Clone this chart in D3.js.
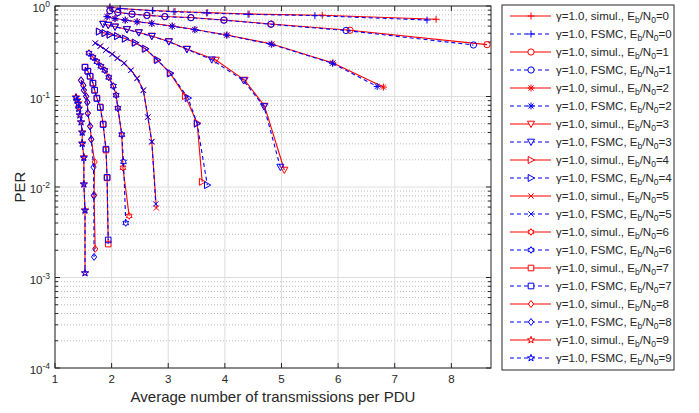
<!DOCTYPE html>
<html><head><meta charset="utf-8">
<script src="https://cdn.jsdelivr.net/npm/d3@7"></script>
<style>
body{margin:0;background:#fff;}
svg{display:block;font-family:"Liberation Sans",Arial,Helvetica,sans-serif;}
</style></head>
<body><svg id="c" width="699" height="413"></svg>
<script>
// ---- data: [average transmissions per PDU, PER] ----
const ebn0 = [0,1,2,3,4,5,6,7,8,9];
const sim0 = [[1.97,0.975],[2.15,0.94],[2.73,0.892],[3.12,0.869],[3.69,0.845],[4.43,0.816],[5.72,0.79],[7.73,0.713]];
const fsm0 = [[1.97,0.972],[2.15,0.937],[2.72,0.888],[3.10,0.863],[3.68,0.838],[4.41,0.809],[5.59,0.783],[7.57,0.70]];
const sim1 = [[1.97,0.89],[2.11,0.85],[2.36,0.816],[2.63,0.789],[2.94,0.766],[3.40,0.746],[3.99,0.70],[4.82,0.633],[6.21,0.54],[8.63,0.374]];
const fsm1 = [[1.97,0.885],[2.11,0.848],[2.36,0.812],[2.62,0.786],[2.94,0.762],[3.40,0.742],[3.98,0.697],[4.81,0.628],[6.14,0.536],[8.39,0.371]];
const sim2 = [[1.92,0.766],[2.06,0.728],[2.24,0.70],[2.45,0.671],[2.71,0.644],[3.07,0.601],[3.47,0.55],[4.04,0.478],[4.83,0.38],[5.91,0.235],[6.80,0.127]];
const fsm2 = [[1.92,0.762],[2.06,0.725],[2.24,0.697],[2.45,0.668],[2.71,0.64],[3.07,0.598],[3.47,0.547],[4.03,0.476],[4.82,0.378],[5.90,0.233],[6.69,0.129]];
const sim3 = [[1.85,0.633],[1.94,0.617],[2.06,0.59],[2.27,0.553],[2.48,0.51],[2.71,0.466],[3.01,0.406],[3.33,0.335],[3.84,0.253],[4.35,0.152],[4.70,0.0785],[5.05,0.0154]];
const fsm3 = [[1.85,0.63],[1.94,0.613],[2.06,0.587],[2.27,0.55],[2.48,0.507],[2.71,0.463],[3.01,0.403],[3.33,0.332],[3.77,0.255],[4.33,0.150],[4.69,0.0775],[4.98,0.0166]];
const sim4 = [[1.78,0.523],[1.88,0.503],[1.97,0.484],[2.10,0.466],[2.24,0.438],[2.41,0.395],[2.59,0.339],[2.80,0.256],[3.03,0.182],[3.30,0.101],[3.51,0.051],[3.60,0.0114]];
const fsm4 = [[1.78,0.52],[1.88,0.50],[1.97,0.481],[2.10,0.463],[2.24,0.435],[2.42,0.392],[2.60,0.336],[2.81,0.252],[3.04,0.180],[3.35,0.0962],[3.51,0.050],[3.69,0.0105]];
const sim5 = [[1.71,0.39],[1.80,0.361],[1.90,0.327],[2.01,0.295],[2.10,0.266],[2.22,0.235],[2.34,0.196],[2.45,0.16],[2.56,0.118],[2.64,0.0594],[2.71,0.0314],[2.79,0.00586]];
const fsm5 = [[1.71,0.388],[1.80,0.359],[1.90,0.325],[2.01,0.293],[2.10,0.264],[2.22,0.233],[2.34,0.194],[2.45,0.158],[2.56,0.117],[2.64,0.059],[2.71,0.0318],[2.78,0.00649]];
const sim6 = [[1.60,0.303],[1.67,0.273],[1.74,0.244],[1.81,0.217],[1.88,0.196],[1.95,0.164],[2.03,0.131],[2.08,0.104],[2.11,0.0746],[2.18,0.0376],[2.20,0.0163],[2.31,0.00479]];
const fsm6 = [[1.60,0.30],[1.67,0.27],[1.74,0.242],[1.81,0.215],[1.88,0.194],[1.95,0.162],[2.03,0.130],[2.08,0.103],[2.11,0.074],[2.18,0.038],[2.21,0.0190],[2.25,0.0040]];
const sim7 = [[1.53,0.212],[1.58,0.191],[1.62,0.168],[1.67,0.141],[1.70,0.118],[1.74,0.0962],[1.80,0.0766],[1.85,0.0497],[1.90,0.0256],[1.92,0.0126],[1.94,0.00234]];
const fsm7 = [[1.53,0.21],[1.58,0.19],[1.62,0.167],[1.67,0.14],[1.70,0.117],[1.74,0.095],[1.80,0.0755],[1.85,0.049],[1.90,0.0262],[1.92,0.0128],[1.94,0.0026]];
const sim8 = [[1.46,0.152],[1.50,0.134],[1.51,0.118],[1.55,0.101],[1.57,0.087],[1.58,0.0657],[1.62,0.0472],[1.64,0.0339],[1.70,0.0189],[1.69,0.0082],[1.71,0.00207]];
const fsm8 = [[1.46,0.15],[1.50,0.132],[1.51,0.117],[1.55,0.10],[1.57,0.086],[1.58,0.065],[1.62,0.0467],[1.64,0.0335],[1.68,0.0166],[1.685,0.0080],[1.69,0.00169]];
const sim9 = [[1.37,0.0987],[1.39,0.0915],[1.41,0.0848],[1.42,0.0746],[1.44,0.0625],[1.46,0.0523],[1.48,0.0405],[1.48,0.0306],[1.51,0.0215],[1.51,0.0108],[1.53,0.00557],[1.53,0.00112]];
const fsm9 = [[1.37,0.097],[1.39,0.09],[1.41,0.083],[1.42,0.073],[1.44,0.062],[1.46,0.052],[1.48,0.040],[1.48,0.030],[1.51,0.021],[1.51,0.0107],[1.53,0.0055],[1.53,0.00112]];
const simSeries = [sim0,sim1,sim2,sim3,sim4,sim5,sim6,sim7,sim8,sim9];
const fsmSeries = [fsm0,fsm1,fsm2,fsm3,fsm4,fsm5,fsm6,fsm7,fsm8,fsm9];
const markerNames = ["plus","circle","asterisk","triDown","triRight","cross","hexagram","square","diamond","pentagram"];
const xTicks = [1,2,3,4,5,6,7,8];
const yTickExps = [0,-1,-2,-3,-4];
const xLabel = "Average number of transmissions per PDU";
const yLabel = "PER";

// ---- layout ----
const L = 55, R = 491, T = 6, B = 368;
const svg = d3.select("#c");
const x = d3.scaleLinear().domain([1, 8.7]).range([L, R]);
const y = d3.scaleLog().domain([1e-4, 1]).range([B, T]);

function markerPath(name, s) {
  const h = s / 2;
  switch (name) {
    case "plus": return `M${-h},0H${h}M0,${-h}V${h}`;
    case "cross": { const k = h * 0.75; return `M${-k},${-k}L${k},${k}M${-k},${k}L${k},${-k}`; }
    case "asterisk": { const k = h * 0.72; return `M${-h},0H${h}M0,${-h}V${h}M${-k},${-k}L${k},${k}M${-k},${k}L${k},${-k}`; }
    case "circle": { const r = h * 0.9; return `M${r},0A${r},${r} 0 1,1 ${-r},0A${r},${r} 0 1,1 ${r},0Z`; }
    case "square": { const k = h * 0.8; return `M${-k},${-k}H${k}V${k}H${-k}Z`; }
    case "diamond": { return `M0,${-h}L${h*0.75},0L0,${h}L${-h*0.75},0Z`; }
    case "triDown": return `M${-h},${-h*0.8}L${h},${-h*0.8}L0,${h}Z`;
    case "triRight": return `M${-h*0.8},${-h}L${h},0L${-h*0.8},${h}Z`;
    case "pentagram": {
      const ro = h * 1.05, ri = ro * 0.382; let p = "";
      for (let i = 0; i < 10; i++) { const r = i % 2 ? ri : ro; const a = -Math.PI / 2 + i * Math.PI / 5;
        p += (i ? "L" : "M") + (r * Math.cos(a)).toFixed(2) + "," + (r * Math.sin(a)).toFixed(2); }
      return p + "Z";
    }
    case "hexagram": {
      const ro = h * 0.95, ri = ro * 0.577; let p = "";
      for (let i = 0; i < 12; i++) { const r = i % 2 ? ri : ro; const a = -Math.PI / 2 + i * Math.PI / 6;
        p += (i ? "L" : "M") + (r * Math.cos(a)).toFixed(2) + "," + (r * Math.sin(a)).toFixed(2); }
      return p + "Z";
    }
  }
}

// ---- grid ----
const grid = svg.append("g");
// minor y grid (dotted)
for (let e = -4; e < 0; e++) {
  for (let m = 2; m <= 9; m++) {
    const v = m * Math.pow(10, e);
    grid.append("line").attr("x1", L).attr("x2", R).attr("y1", y(v)).attr("y2", y(v))
      .attr("stroke", "#bdbdbd").attr("stroke-width", 1).attr("stroke-dasharray", "1,2");
  }
}
// major grid
yTickExps.forEach(e => {
  grid.append("line").attr("x1", L).attr("x2", R).attr("y1", y(Math.pow(10, e))).attr("y2", y(Math.pow(10, e)))
    .attr("stroke", "#dedede").attr("stroke-width", 1);
});
xTicks.forEach(t => {
  grid.append("line").attr("x1", x(t)).attr("x2", x(t)).attr("y1", T).attr("y2", B)
    .attr("stroke", "#dedede").attr("stroke-width", 1);
});

// ---- ticks ----
const tk = svg.append("g").attr("stroke", "#262626").attr("stroke-width", 1);
xTicks.forEach(t => {
  tk.append("line").attr("x1", x(t)).attr("x2", x(t)).attr("y1", B).attr("y2", B - 5);
  tk.append("line").attr("x1", x(t)).attr("x2", x(t)).attr("y1", T).attr("y2", T + 5);
});
for (let e = -4; e <= 0; e++) {
  const v = Math.pow(10, e);
  tk.append("line").attr("x1", L).attr("x2", L + 5).attr("y1", y(v)).attr("y2", y(v));
  tk.append("line").attr("x1", R).attr("x2", R - 5).attr("y1", y(v)).attr("y2", y(v));
  if (e < 0) for (let m = 2; m <= 9; m++) {
    const w = m * v;
    tk.append("line").attr("x1", L).attr("x2", L + 3).attr("y1", y(w)).attr("y2", y(w));
    tk.append("line").attr("x1", R).attr("x2", R - 3).attr("y1", y(w)).attr("y2", y(w));
  }
}

// ---- curves ----
const clip = svg.append("clipPath").attr("id", "clp").append("rect")
  .attr("x", L).attr("y", T - 4).attr("width", R - L + 4).attr("height", B - T + 4);
const plot = svg.append("g").attr("clip-path", "url(#clp)");
const line = d3.line().x(d => x(d[0])).y(d => y(d[1]));
const MS = 7;

function drawSeries(data, color, dashed, mk) {
  plot.append("path").attr("d", line(data)).attr("fill", "none").attr("stroke", color)
    .attr("stroke-width", 1.1).attr("stroke-dasharray", dashed ? "4,3" : null);
  plot.selectAll(null).data(data).enter().append("path")
    .attr("transform", d => `translate(${x(d[0])},${y(d[1])})`)
    .attr("d", markerPath(mk, MS)).attr("fill", "none").attr("stroke", color).attr("stroke-width", 1);
}
ebn0.forEach((e, i) => {
  drawSeries(simSeries[i], "#ff0000", false, markerNames[i]);
  drawSeries(fsmSeries[i], "#0000ff", true, markerNames[i]);
});

// ---- axes box ----
svg.append("rect").attr("x", L).attr("y", T).attr("width", R - L).attr("height", B - T)
  .attr("fill", "none").attr("stroke", "#262626").attr("stroke-width", 1);

// ---- tick labels ----
const lab = svg.append("g").attr("fill", "#262626").attr("font-size", 11.5);
xTicks.forEach(t => {
  lab.append("text").attr("x", x(t)).attr("y", B + 15).attr("text-anchor", "middle").text(t);
});
yTickExps.forEach(e => {
  const tx = lab.append("text").attr("x", L - 5).attr("y", y(Math.pow(10, e)) + 6).attr("text-anchor", "end");
  tx.append("tspan").text("10");
  tx.append("tspan").attr("dy", -5).attr("font-size", 8.5).text(String(e).replace("-", "-"));
});

// axis titles
svg.append("text").attr("x", (L + R) / 2).attr("y", 402).attr("text-anchor", "middle")
  .attr("font-size", 15).attr("fill", "#262626").text(xLabel);
svg.append("text").attr("transform", `translate(25,${(T + B) / 2}) rotate(-90)`).attr("text-anchor", "middle")
  .attr("font-size", 15).attr("fill", "#262626").text(yLabel);

// ---- legend ----
const lg = svg.append("g");
lg.append("rect").attr("x", 502).attr("y", 5).attr("width", 172).attr("height", 365)
  .attr("fill", "#fff").attr("stroke", "#262626").attr("stroke-width", 1);
let row = 0;
ebn0.forEach((e, i) => {
  [["simul.", "#ff0000", false], ["FSMC", "#0000ff", true]].forEach(([kind, col, dash]) => {
    const yy = 16 + row * 18;
    lg.append("line").attr("x1", 510).attr("x2", 551).attr("y1", yy).attr("y2", yy)
      .attr("stroke", col).attr("stroke-width", 1.1).attr("stroke-dasharray", dash ? "4,3" : null);
    lg.append("path").attr("transform", `translate(531,${yy})`).attr("d", markerPath(markerNames[i], MS))
      .attr("fill", "#fff").attr("stroke", col).attr("stroke-width", 1);
    const t = lg.append("text").attr("x", 556).attr("y", yy + 4).attr("font-size", 11.5).attr("fill", "#262626");
    t.append("tspan").text(`\u03b3=1.0, ${kind}, E`);
    t.append("tspan").attr("dy", 3).attr("font-size", 8.5).text("b");
    t.append("tspan").attr("dy", -3).text("/N");
    t.append("tspan").attr("dy", 3).attr("font-size", 8.5).text("0");
    t.append("tspan").attr("dy", -3).text(`=${e}`);
    row++;
  });
});
</script></body></html>
